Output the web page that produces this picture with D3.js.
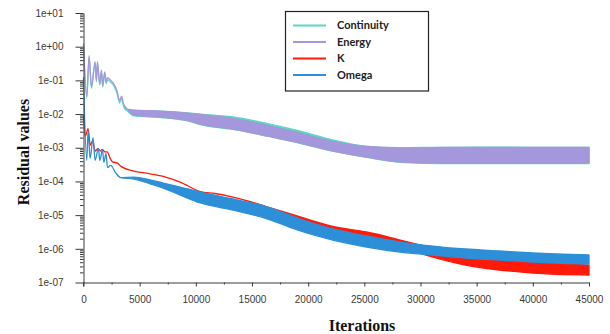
<!DOCTYPE html>
<html>
<head>
<meta charset="utf-8">
<script src="https://cdn.jsdelivr.net/npm/d3@7"></script>
<style>
  html, body { margin: 0; padding: 0; background: #fff; }
  svg { display: block; }
  .tick text { font-family: "Liberation Sans", Arial, sans-serif; font-size: 10px; fill: #3a3a3a; }
  .axis path, .axis line { stroke: #3a3a3a; }
  .title { font-family: "Liberation Serif", "Times New Roman", serif; font-weight: bold; font-size: 16px; fill: #111; }
  .legend text { font-family: Lato, "Open Sans", sans-serif; font-weight: bold; font-size: 11px; fill: #222; }
</style>
</head>
<body>
<div id="chart"></div>
<script>
// residual histories: [iteration, low, high]
// where low == high the curve is a single line, otherwise it is a noisy band
const continuity = [
  [0, 1.0, 1.0], [290, 0.03, 0.03], [500, 0.48, 0.48], [710, 0.058, 0.058],
  [1030, 0.32, 0.32], [1150, 0.09, 0.09], [1240, 0.32, 0.32], [1450, 0.072, 0.072],
  [1600, 0.18, 0.18], [1710, 0.064, 0.064], [1890, 0.16, 0.16], [2020, 0.08, 0.08],
  [2130, 0.105, 0.105], [2420, 0.088, 0.088], [2690, 0.07, 0.07], [3000, 0.04, 0.04],
  [3210, 0.021, 0.021], [3390, 0.029, 0.029], [3570, 0.017, 0.017], [3900, 0.0125, 0.0125],
  [4500, 0.0088, 0.0128], [6900, 0.0079, 0.0122], [9500, 0.006, 0.0106],
  [10400, 0.0049, 0.0099], [13300, 0.0035, 0.0082], [16400, 0.0022, 0.0052],
  [19300, 0.00136, 0.0031], [22200, 0.00079, 0.0017], [25200, 0.00052, 0.0011],
  [28200, 0.00037, 0.001], [32000, 0.00034, 0.00103], [36000, 0.00034, 0.00104],
  [40000, 0.00034, 0.00103], [45000, 0.00034, 0.00103]
];
const energy = [
  [0, 1.2, 1.2], [290, 0.034, 0.034], [500, 0.54, 0.54], [710, 0.065, 0.065],
  [1030, 0.36, 0.36], [1150, 0.1, 0.1], [1240, 0.36, 0.36], [1450, 0.08, 0.08],
  [1600, 0.2, 0.2], [1710, 0.07, 0.07], [1890, 0.18, 0.18], [2020, 0.09, 0.09],
  [2130, 0.12, 0.12], [2420, 0.1, 0.1], [2690, 0.08, 0.08], [3000, 0.046, 0.046],
  [3210, 0.025, 0.025], [3390, 0.034, 0.034], [3570, 0.02, 0.02], [3900, 0.014, 0.014],
  [4500, 0.0093, 0.0131], [6900, 0.0081, 0.0123], [9500, 0.0062, 0.0105],
  [10400, 0.0050, 0.0097], [13300, 0.0036, 0.0074], [16400, 0.0022, 0.0046],
  [19300, 0.00138, 0.0027], [22200, 0.0008, 0.00154], [25200, 0.00053, 0.00109],
  [28200, 0.00038, 0.00099], [32000, 0.00035, 0.00102], [36000, 0.00035, 0.00103],
  [40000, 0.00035, 0.00102], [45000, 0.00035, 0.00102]
];
const kResidual = [
  [0, 0.009, 0.009], [160, 0.0022, 0.0022], [410, 0.0037, 0.0037], [600, 0.0012, 0.0012],
  [820, 0.0016, 0.0016], [1030, 0.0008, 0.0008], [1300, 0.00095, 0.00095],
  [1500, 0.0008, 0.0008], [1680, 0.0009, 0.0009], [1900, 0.00075, 0.00075],
  [2100, 0.00075, 0.00075], [2420, 0.00045, 0.00045], [2600, 0.00038, 0.00038],
  [3020, 0.00035, 0.00035], [3400, 0.00027, 0.00027], [4500, 0.000204, 0.000204],
  [6000, 0.000166, 0.000166], [7300, 0.000135, 0.000135], [8600, 0.000096, 0.000096],
  [10400, 0.00005, 0.00005], [11700, 0.0000438, 0.0000438], [13300, 0.0000344, 0.0000344],
  [16400, 0.0000174, 0.0000174], [19300, 7.7e-6, 8.8e-6], [22200, 3.9e-6, 4.6e-6],
  [25200, 2.09e-6, 3.16e-6], [28200, 1.13e-6, 1.82e-6], [31100, 5.7e-7, 1.06e-6],
  [34000, 3.3e-7, 7.0e-7], [37000, 2.35e-7, 5.3e-7], [40000, 1.91e-7, 4.06e-7],
  [45000, 1.67e-7, 3.3e-7]
];
const omega = [
  [0, 0.12, 0.12], [290, 0.00042, 0.00042], [410, 0.0032, 0.0032], [590, 0.00048, 0.00048],
  [850, 0.002, 0.002], [1030, 0.00042, 0.00042], [1330, 0.00095, 0.00095],
  [1450, 0.00042, 0.00042], [1690, 0.00088, 0.00088], [1810, 0.00037, 0.00037],
  [2010, 0.00068, 0.00068], [2130, 0.00026, 0.00026], [2420, 0.0003, 0.0003],
  [2860, 0.00018, 0.00018], [3300, 0.00013, 0.00013], [4500, 0.000118, 0.000135],
  [6000, 0.0000838, 0.00011], [7100, 0.0000637, 0.0000898], [8600, 0.0000394, 0.0000683],
  [10400, 0.0000229, 0.0000484], [13300, 0.0000142, 0.0000301], [16400, 7.66e-6, 0.0000174],
  [19300, 3.38e-6, 7.66e-6], [22200, 1.82e-6, 3.88e-6], [25200, 1.13e-6, 2.4e-6],
  [28200, 8.0e-7, 1.59e-6], [31100, 6.55e-7, 1.21e-6], [34000, 5.33e-7, 9.86e-7],
  [37000, 4.66e-7, 8.61e-7], [40000, 4.06e-7, 7.5e-7], [45000, 3.54e-7, 6.55e-7]
];

const seriesNames = ['Continuity', 'Energy', 'K', 'Omega'];
const seriesColors = ['#5ad8c4', '#a597db', '#ff1a0a', '#2d8fd8'];
const seriesData = [continuity, energy, kResidual, omega];

const xTicks = [0, 5000, 10000, 15000, 20000, 25000, 30000, 35000, 40000, 45000];
const xMinorTicks = [2500, 7500, 12500, 17500, 22500, 27500, 32500, 37500, 42500];
const yTicks = [1e-7, 1e-6, 1e-5, 1e-4, 1e-3, 1e-2, 1e-1, 1, 10];
const yTickLabels = ['1e-07', '1e-06', '1e-05', '1e-04', '1e-03', '1e-02', '1e-01', '1e+00', '1e+01'];

const width = 610, height = 334;
const margin = { top: 13, right: 21, bottom: 51.5, left: 83.5 };
const innerWidth = width - margin.left - margin.right;
const innerHeight = height - margin.top - margin.bottom;

const svg = d3.select('#chart').append('svg')
  .attr('width', width)
  .attr('height', height);
const chart = svg.append('g')
  .attr('transform', 'translate(' + margin.left + ',' + margin.top + ')');

const x = d3.scaleLinear().domain([0, 45000]).range([0, innerWidth]);
const y = d3.scaleLog().domain([1e-7, 10]).range([innerHeight, 0]);

// log minor ticks 2..9 in every decade
const yMinorTicks = [];
yTicks.slice(0, -1).forEach((d) => {
  for (let k = 2; k <= 9; k++) yMinorTicks.push(d * k);
});

// residual curves, drawn in legend order so Omega sits on top
const band = d3.area()
  .curve(d3.curveMonotoneX)
  .x((d) => x(d[0]))
  .y0((d) => y(d[1]))
  .y1((d) => y(d[2]));

chart.append('g').selectAll('path')
  .data(seriesData)
  .join('path')
  .attr('d', band)
  .attr('fill', (d, i) => seriesColors[i])
  .attr('stroke', (d, i) => seriesColors[i])
  .attr('stroke-width', 1.3)
  .attr('stroke-linejoin', 'round');

// axes
chart.append('g')
  .attr('class', 'axis')
  .attr('transform', 'translate(0,' + innerHeight + ')')
  .call(d3.axisBottom(x).tickValues(xMinorTicks).tickSize(2).tickFormat(''))
  .call((g) => g.select('.domain').remove());

chart.append('g')
  .attr('class', 'axis')
  .attr('transform', 'translate(0,' + innerHeight + ')')
  .call(d3.axisBottom(x).tickValues(xTicks).tickSize(4).tickSizeOuter(0).tickPadding(9).tickFormat(d3.format('d')));

chart.append('g')
  .attr('class', 'axis')
  .call(d3.axisLeft(y).tickValues(yMinorTicks).tickSize(3.5).tickFormat(''))
  .call((g) => g.select('.domain').remove());

chart.append('g')
  .attr('class', 'axis')
  .call(d3.axisLeft(y).tickValues(yTicks).tickSize(8).tickSizeOuter(0).tickPadding(12)
    .tickFormat((d, i) => yTickLabels[i]));

// the zero tick continues the y axis below the x axis
chart.append('line')
  .attr('x1', x(0)).attr('x2', x(0))
  .attr('y1', innerHeight).attr('y2', innerHeight + 4)
  .attr('stroke', '#3a3a3a');

// axis titles
svg.append('text')
  .attr('class', 'title')
  .attr('text-anchor', 'middle')
  .attr('transform', 'translate(29,152) rotate(-90)')
  .text('Residual values');

svg.append('text')
  .attr('class', 'title')
  .attr('text-anchor', 'middle')
  .attr('x', 362)
  .attr('y', 331)
  .text('Iterations');

// legend
const legend = svg.append('g').attr('class', 'legend').attr('transform', 'translate(285.5,11.5)');
legend.append('rect')
  .attr('width', 143)
  .attr('height', 79.5)
  .attr('fill', '#fff')
  .attr('stroke', '#222')
  .attr('stroke-width', 1.2);

const rows = legend.selectAll('g.row')
  .data(seriesNames)
  .join('g')
  .attr('class', 'row')
  .attr('transform', (d, i) => 'translate(0,' + (14 + i * 16.5) + ')');
rows.append('line')
  .attr('x1', 7.5).attr('x2', 40.5)
  .attr('stroke', (d, i) => seriesColors[i])
  .attr('stroke-width', 2.2);
rows.append('text')
  .attr('x', 51.5)
  .attr('dy', '0.35em')
  .text((d) => d);
</script>
</body>
</html>
